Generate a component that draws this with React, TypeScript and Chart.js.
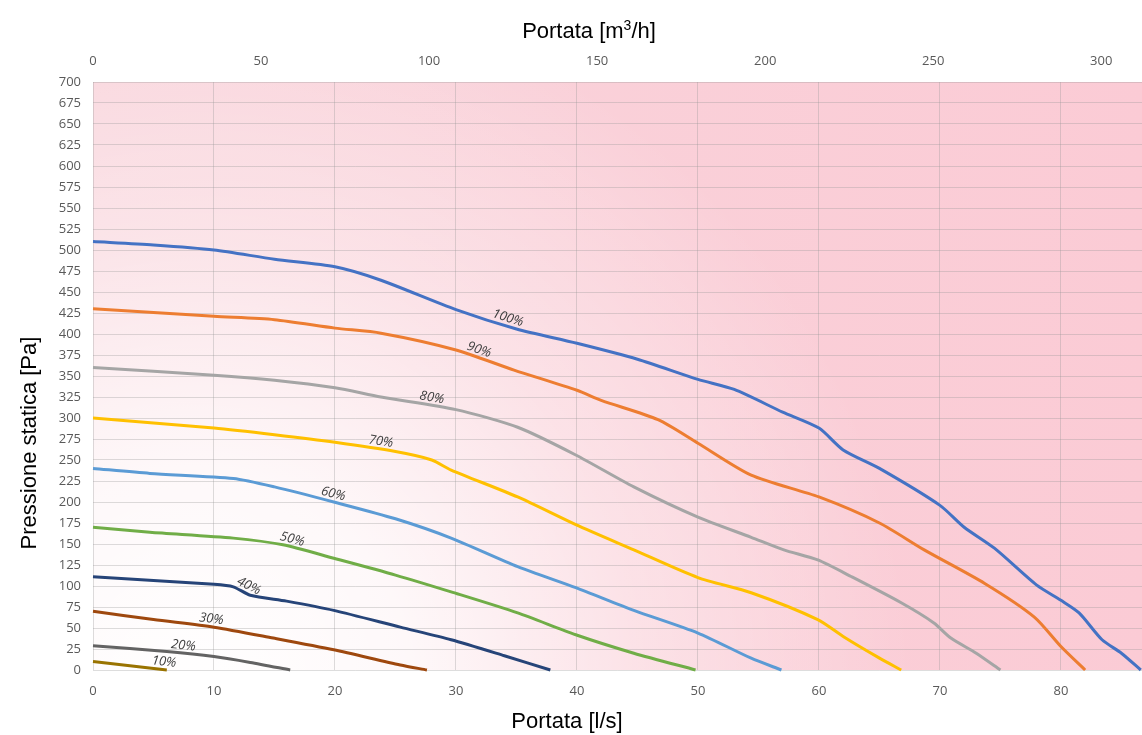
import React, { useEffect, useRef } from "react";
import { Chart, registerables } from "chart.js";

Chart.register(...registerables);

// ---- axes ----
const flowMax = 86.7; // l/s
const LPS_TO_M3H = 3.6;
const pressureMax = 700;
const pressureStep = 25;
const flowStep = 10;
const flowM3hStep = 50;

// ---- curves (flow l/s, static pressure Pa) ----
const q100 = [0, 5, 10, 15, 20, 23.8, 30, 35, 40, 45, 50, 53, 57, 60, 62, 65, 70, 72, 74.5, 78, 80, 81.5, 83.4, 85, 86.6];
const p100 = [510, 506, 500, 489, 480, 464, 429, 406, 389, 370, 346, 334, 307, 288, 262, 240, 196, 170, 145, 101, 83, 68, 36, 20, 0];

const q90 = [0, 10, 15, 20, 23.8, 30, 34.8, 40, 42, 46.7, 50, 54.4, 60, 65, 68.7, 73.7, 77.8, 80, 82];
const p90 = [430, 421, 417, 407, 401, 381, 357, 333, 321, 298, 270, 232, 206, 175, 143, 103, 63, 28, 0];

const q80 = [0, 10, 15, 20, 23.8, 30, 35.1, 39.9, 44.7, 50, 54.4, 57.1, 59.9, 62.7, 66.8, 69.5, 70.9, 73, 75];
const p80 = [360, 351, 345, 336, 325, 310, 289, 256, 218, 182, 158, 143, 131, 111, 80, 56, 38, 20, 0];

const q70 = [0, 10, 15, 20, 25, 28, 29.6, 35.1, 39.9, 44.7, 50, 54.4, 59.9, 62.1, 64.9, 66.8];
const p70 = [300, 288, 280, 271, 260, 250, 238, 206, 173, 143, 110, 92, 60, 39, 15, 0];

const q60 = [0, 4.7, 11.6, 15, 19.9, 25, 29.6, 35.1, 39.9, 44.7, 50, 54.4, 56.9];
const p60 = [240, 234, 228, 218, 200, 180, 157, 123, 98, 71, 44, 14, 0];

const q50 = [0, 4.7, 11.6, 15.7, 19.9, 25, 29.6, 35.1, 39.9, 44.7, 49.8];
const p50 = [170, 164, 157, 149, 133, 113, 93, 68, 42, 20, 0];

const q40 = [0, 10, 11.6, 13, 16, 19.9, 25.4, 29.6, 34, 37.8];
const p40 = [111, 102, 99, 89, 82, 71, 51, 36, 17, 0];

const q30 = [0, 5, 10, 14.9, 19.9, 25.4, 27.6];
const p30 = [70, 60, 51, 38, 24, 6, 0];

const q20 = [0, 6.1, 10, 13, 16.3];
const p20 = [29, 22, 16, 9, 0];

const q10 = [0, 6.1];
const p10 = [10, 0];

const speedLabels = ["100%", "90%", "80%", "70%", "60%", "50%", "40%", "30%", "20%", "10%"];
const speedColors = ["#4472C4", "#ED7D31", "#A5A5A5", "#FFC000", "#5B9BD5", "#70AD47", "#264478", "#9E480E", "#636363", "#997300"];
const labelFlowAt = [34.1, 31.7, 27.9, 23.7, 19.7, 16.3, 12.6, 9.7, 7.4, 5.8];

const curveFlows = [q100, q90, q80, q70, q60, q50, q40, q30, q20, q10];
const curvePressures = [p100, p90, p80, p70, p60, p50, p40, p30, p20, p10];

const titleTop = "Portata [m3/h]";
const titleBottom = "Portata [l/s]";
const titleLeft = "Pressione statica [Pa]";

const TICK_FONT = { family: "'Open Sans', 'DejaVu Sans', sans-serif", size: 13 };
const TICK_COLOR = "#595959";
const GRID_COLOR = "rgba(150,150,150,0.32)";
const TITLE_FONT = "22px 'Liberation Sans', Arial, sans-serif";
const SUP_FONT = "14px 'Liberation Sans', Arial, sans-serif";

const stepTicks = (step: number) => (scale: any) => {
  const out: any[] = [];
  for (let i = 0; i * step <= scale.max + 1e-9; i++) out.push({ value: i * step });
  scale.ticks = out;
};

const backgroundPlugin = {
  id: "plotBackground",
  beforeDraw(chart: any) {
    const { ctx, chartArea: a } = chart;
    if (!a) return;
    ctx.save();
    const lin = ctx.createLinearGradient(a.left, 0, a.right, 0);
    lin.addColorStop(0, "#f9d5dc");
    lin.addColorStop(1, "#fbcbd5");
    ctx.fillStyle = lin;
    ctx.fillRect(a.left, a.top, a.width, a.height);
    const cx = a.left + 100;
    const cy = a.bottom + 20;
    const rad = ctx.createRadialGradient(cx, cy, 0, cx, cy, 720);
    rad.addColorStop(0, "rgba(255,255,255,1)");
    rad.addColorStop(0.3, "rgba(255,255,255,0.85)");
    rad.addColorStop(0.62, "rgba(255,255,255,0.38)");
    rad.addColorStop(1, "rgba(255,255,255,0)");
    ctx.fillStyle = rad;
    ctx.fillRect(a.left, a.top, a.width, a.height);
    ctx.restore();
  },
};

const curveLabelPlugin = {
  id: "curveLabels",
  afterDatasetsDraw(chart: any) {
    const { ctx } = chart;
    const xs = chart.scales.x;
    const ys = chart.scales.y;
    curveFlows.forEach((q, i) => {
      const p = curvePressures[i];
      const qx = labelFlowAt[i];
      let k = 0;
      while (k < q.length - 2 && q[k + 1] < qx) k++;
      const t = (qx - q[k]) / (q[k + 1] - q[k]);
      const pv = p[k] + t * (p[k + 1] - p[k]);
      const px = xs.getPixelForValue(qx);
      const py = ys.getPixelForValue(pv);
      const ang = Math.atan2(
        ys.getPixelForValue(p[k + 1]) - ys.getPixelForValue(p[k]),
        xs.getPixelForValue(q[k + 1]) - xs.getPixelForValue(q[k])
      );
      ctx.save();
      ctx.translate(px, py);
      ctx.rotate(ang);
      ctx.font = "italic 13px 'Open Sans', 'DejaVu Sans', sans-serif";
      ctx.fillStyle = "#404040";
      ctx.textAlign = "center";
      ctx.textBaseline = "alphabetic";
      ctx.fillText(speedLabels[i], 0, -4);
      ctx.restore();
    });
  },
};

const titlePlugin = {
  id: "axisTitles",
  afterDraw(chart: any) {
    const { ctx, chartArea: a } = chart;
    ctx.save();
    ctx.fillStyle = "#000000";
    ctx.font = TITLE_FONT;
    ctx.textBaseline = "alphabetic";

    // top title with superscript 3
    const parts = titleTop.split("3");
    const w1 = ctx.measureText(parts[0]).width;
    ctx.font = SUP_FONT;
    const wSup = ctx.measureText("3").width;
    ctx.font = TITLE_FONT;
    const w2 = ctx.measureText(parts[1]).width;
    const total = w1 + wSup + w2;
    const cxTop = a.left + 496;
    const x0 = cxTop - total / 2;
    const yTop = a.top - 44;
    ctx.textAlign = "left";
    ctx.fillText(parts[0], x0, yTop);
    ctx.font = SUP_FONT;
    ctx.fillText("3", x0 + w1, yTop - 8);
    ctx.font = TITLE_FONT;
    ctx.fillText(parts[1], x0 + w1 + wSup, yTop);

    // bottom title
    ctx.textAlign = "center";
    ctx.fillText(titleBottom, a.left + 474, a.bottom + 58);

    // left title
    ctx.translate(30, a.top + 361);
    ctx.rotate(-Math.PI / 2);
    ctx.textBaseline = "middle";
    ctx.fillText(titleLeft, 0, 0);
    ctx.restore();
  },
};

export default function App() {
  const canvasRef = useRef<HTMLCanvasElement | null>(null);

  useEffect(() => {
    if (!canvasRef.current) return;
    const datasets = curveFlows.map((q, i) => ({
      label: speedLabels[i],
      data: q.map((x, j) => ({ x, y: curvePressures[i][j] })),
      borderColor: speedColors[i],
      backgroundColor: speedColors[i],
      borderWidth: 3,
      pointRadius: 0,
      pointHoverRadius: 0,
      tension: 0.25,
      fill: false,
      clip: 4,
    }));

    const chart = new Chart(canvasRef.current, {
      type: "line",
      data: { datasets },
      options: {
        animation: false,
        responsive: true,
        maintainAspectRatio: false,
        layout: { padding: 0 },
        plugins: {
          legend: { display: false },
          tooltip: { enabled: false },
          title: { display: false },
        },
        scales: {
          x: {
            type: "linear",
            position: "bottom",
            min: 0,
            max: flowMax,
            afterBuildTicks: stepTicks(flowStep),
            ticks: {
              padding: 13,
              color: TICK_COLOR,
              font: TICK_FONT,
              autoSkip: false,
              maxRotation: 0,
            },
            grid: { color: GRID_COLOR, drawTicks: false, lineWidth: 1 },
            border: { display: false },
            afterFit: (s: any) => {
              s.height = 65;
            },
          },
          x2: {
            type: "linear",
            position: "top",
            min: 0,
            max: flowMax * LPS_TO_M3H,
            afterBuildTicks: stepTicks(flowM3hStep),
            ticks: {
              padding: 13,
              color: TICK_COLOR,
              font: TICK_FONT,
              autoSkip: false,
              maxRotation: 0,
            },
            grid: { display: false, drawTicks: false },
            border: { display: false },
            afterFit: (s: any) => {
              s.height = 82;
            },
          },
          y: {
            type: "linear",
            min: 0,
            max: pressureMax,
            afterBuildTicks: stepTicks(pressureStep),
            ticks: {
              padding: 12,
              color: TICK_COLOR,
              font: TICK_FONT,
              autoSkip: false,
            },
            grid: { color: GRID_COLOR, drawTicks: false, lineWidth: 1 },
            border: { display: false },
            afterFit: (s: any) => {
              s.width = 93;
            },
          },
        },
      },
      plugins: [backgroundPlugin, curveLabelPlugin, titlePlugin],
    });
    return () => chart.destroy();
  }, []);

  return (
    <div style={{ position: "absolute", left: 0, top: 0, width: 1142, height: 735, background: "#ffffff" }}>
      <canvas ref={canvasRef} />
    </div>
  );
}
